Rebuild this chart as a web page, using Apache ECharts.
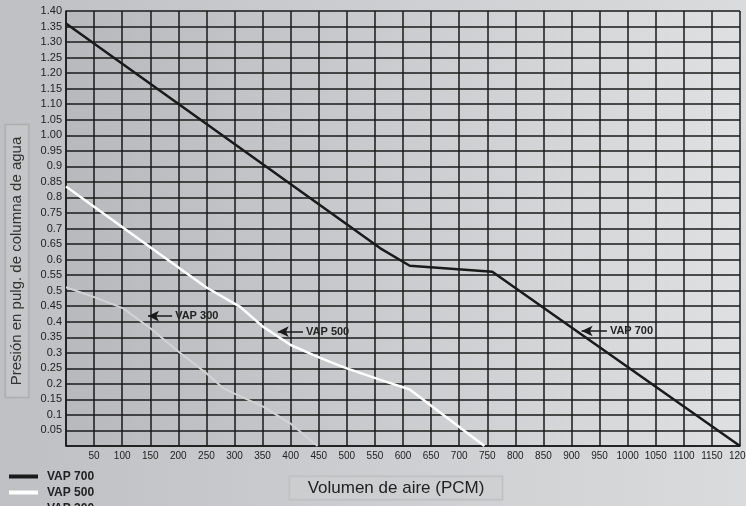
<!DOCTYPE html>
<html>
<head>
<meta charset="utf-8">
<script src="https://cdn.jsdelivr.net/npm/echarts@6/dist/echarts.min.js"></script>
<style>
html,body{margin:0;padding:0;width:746px;height:506px;overflow:hidden;}
#c{width:746px;height:506px;}
</style>
</head>
<body>
<div id="c"></div>
<script>
// ---- data ----
const seriesNames = ['VAP 700', 'VAP 500', 'VAP 300'];
const vap700X = [0, 559, 612, 759, 1200];
const vap700Y = [1.36, 0.637, 0.58, 0.561, 0];
const vap500X = [0, 150, 250, 310, 350, 400, 440, 470, 500, 560, 612, 745];
const vap500Y = [0.835, 0.64, 0.51, 0.448, 0.385, 0.325, 0.293, 0.271, 0.25, 0.213, 0.182, 0];
const vap300X = [0, 49, 102, 150, 200, 250, 280, 298, 351, 399, 448];
const vap300Y = [0.511, 0.48, 0.443, 0.379, 0.304, 0.234, 0.186, 0.17, 0.127, 0.073, 0];
const xTickLabels = ['', '50','100','150','200','250','300','350','400','450','500','550','600','650','700','750','800','850','900','950','1000','1050','1100','1150','1200'];
const yTickLabels = ['', '0.05','0.1','0.15','0.2','0.25','0.3','0.35','0.4','0.45','0.5','0.55','0.6','0.65','0.7','0.75','0.8','0.85','0.9','0.95','1.00','1.05','1.10','1.15','1.20','1.25','1.30','1.35','1.40'];
const annotText = ['VAP 700', 'VAP 500', 'VAP 300'];
const annotX1 = [918, 377, 146];
const annotX2 = [963, 422, 189];
const annotY = [0.37, 0.368, 0.418];

function pairs(xs, ys){ return xs.map((x,i)=>[x, ys[i]]); }
const font = '"Liberation Sans", Arial, sans-serif';
function arrow(i){
  return {
    silent: true,
    symbol: ['arrow','none'],
    symbolSize: [8, 11],
    lineStyle: {color:'#1a1a1a', width:1.5, type:'solid'},
    label: {show:true, position:'end', distance:3, formatter: annotText[i], color:'#222', fontWeight:'bold', fontSize:11, fontFamily: font},
    emphasis: {disabled:true},
    animation:false,
    data: [[{coord:[annotX1[i], annotY[i]]},{coord:[annotX2[i], annotY[i]]}]]
  };
}

const chart = echarts.init(document.getElementById('c'));
chart.setOption({
  animation: false,
  backgroundColor: {type:'linear', x:0, y:0, x2:1, y2:0, colorStops:[{offset:0,color:'#bfc0c3'},{offset:1,color:'#dadbdd'}]},
  grid: {left:66, right:6, top:11, bottom:60, show:true, borderWidth:0, outerBoundsMode:'none', containLabel:false,
    backgroundColor:{type:'linear', x:0, y:0, x2:1, y2:0, colorStops:[{offset:0,color:'#b7b9bc'},{offset:1,color:'#dfe0e2'}]}},
  xAxis: {
    type:'value', min:0, max:1200, interval:50,
    axisLine:{show:true, lineStyle:{color:'#1a1a1a', width:1.5}},
    axisTick:{show:false},
    splitLine:{show:true, lineStyle:{color:'#1a1a1a', width:1.5}},
    axisLabel:{margin:5, color:'#222', fontSize:10, fontFamily:font, showMinLabel:true, showMaxLabel:true, hideOverlap:false,
      formatter:(v)=>xTickLabels[Math.round(v/50)] || ''}
  },
  yAxis: {
    type:'value', min:0, max:1.4, interval:0.05,
    axisLine:{show:true, lineStyle:{color:'#1a1a1a', width:1.5}},
    axisTick:{show:false},
    splitLine:{show:true, lineStyle:{color:'#1a1a1a', width:1.5}},
    axisLabel:{margin:4, color:'#222', fontSize:11, fontFamily:font, showMinLabel:true, showMaxLabel:true,
      formatter:(v)=>yTickLabels[Math.round(v/0.05)] || ''}
  },
  legend: {
    orient:'vertical', left:4, top:465, height:80, itemWidth:29, itemHeight:4, itemGap:3,
    icon:'rect',
    textStyle:{color:'#222', fontWeight:'bold', fontSize:12, fontFamily:font, lineHeight:13, padding:[0,0,0,4]},
    data: seriesNames
  },
  series: [
    {name:seriesNames[0], type:'line', data:pairs(vap700X, vap700Y), symbol:'none', color:'#1a1a1a',
      lineStyle:{color:'#1a1a1a', width:2.5}, markLine: arrow(0)},
    {name:seriesNames[1], type:'line', data:pairs(vap500X, vap500Y), symbol:'none', color:'#ffffff',
      lineStyle:{color:'#ffffff', width:2.5}, markLine: arrow(1)},
    {name:seriesNames[2], type:'line', data:pairs(vap300X, vap300Y), symbol:'none', color:'#d2d3d4',
      lineStyle:{color:'#d2d3d4', width:2}, markLine: arrow(2)}
  ],
  graphic: [
    {type:'text', x:17, y:261, rotation:Math.PI/2, silent:true,
      style:{text:'Presión en pulg. de columna de agua', font:'15px '+font, fill:'#333', align:'center', verticalAlign:'middle',
        backgroundColor:'rgba(200,201,203,0.6)', borderColor:'#a9aaac', borderWidth:1, padding:[4,12]}},
    {type:'text', x:396, y:488, silent:true,
      style:{text:'Volumen de aire (PCM)', font:'17px '+font, fill:'#222', align:'center', verticalAlign:'middle',
        backgroundColor:'rgba(205,206,208,0.6)', borderColor:'#bdbec0', borderWidth:1, padding:[3,18]}}
  ]
});
</script>
</body>
</html>
